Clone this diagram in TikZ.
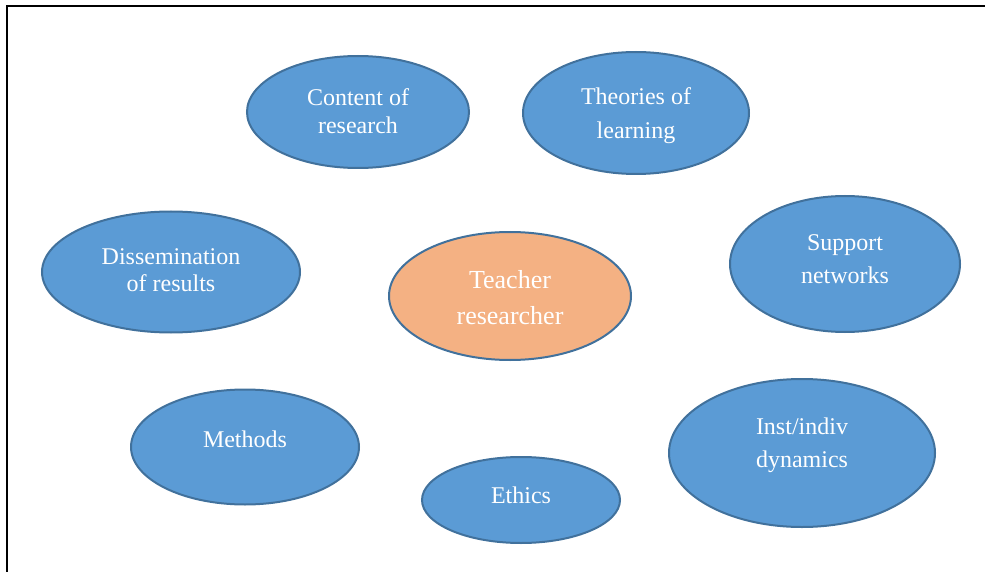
\documentclass[tikz,border=0pt]{standalone}
\usepackage{fontspec}
\setmainfont{Liberation Serif}
\usetikzlibrary{shapes.geometric}
\definecolor{bubfill}{HTML}{5B9BD5}
\definecolor{bubline}{HTML}{41719C}
\definecolor{hubfill}{HTML}{F4B183}

\begin{document}
\begin{tikzpicture}[x=1pt, y=-1pt, thick,
    bub/.style = {draw=bubline, fill=bubfill, ellipse, line width=2pt, inner sep=0pt},
    hub/.style = {bub, fill=hubfill},
    txt/.style = {text=white, align=center, inner sep=0pt, font=\fontsize{24}{27}\selectfont}]
    \useasboundingbox (0,0) rectangle (985,572);
    \draw[line width=2.4pt] (7,572) -- (7,6) -- (985,6);
    % bubbles
    \node[bub, minimum width=222pt, minimum height=112pt] (content) at (358,112) {};
    \node[bub, minimum width=226pt, minimum height=122pt] (theory) at (636,113) {};
    \node[bub, minimum width=258pt, minimum height=121pt] (dissem) at (171,272) {};
    \node[hub, minimum width=242pt, minimum height=128pt] (teacher) at (510,296) {};
    \node[bub, minimum width=230pt, minimum height=136pt] (support) at (845,264) {};
    \node[bub, minimum width=228pt, minimum height=115pt] (methods) at (245,447) {};
    \node[bub, minimum width=198pt, minimum height=86pt] (ethics) at (521,500) {};
    \node[bub, minimum width=266pt, minimum height=148pt] (dynamics) at (802,453) {};
    % labels
    \node[txt, font=\fontsize{24}{28}\selectfont] (contentT) at (358,111) {Content of\\research};
    \node[txt, font=\fontsize{24}{34}\selectfont] (theoryT) at (636,116) {Theories of\\learning};
    \node[txt] (dissemT) at (171,270) {Dissemination\\of results};
    \node[txt, font=\fontsize{26}{36}\selectfont] (teacherT) at (510,298) {Teacher\\researcher};
    \node[txt, font=\fontsize{24}{33}\selectfont] (supportT) at (845,259) {Support\\networks};
    \node[txt] (methodsT) at (245,439) {Methods};
    \node[txt] (ethicsT) at (521,495) {Ethics};
    \node[txt, font=\fontsize{24}{33}\selectfont] (dynamicsT) at (802,445) {Inst/indiv\\dynamics};
\end{tikzpicture}
\end{document}
